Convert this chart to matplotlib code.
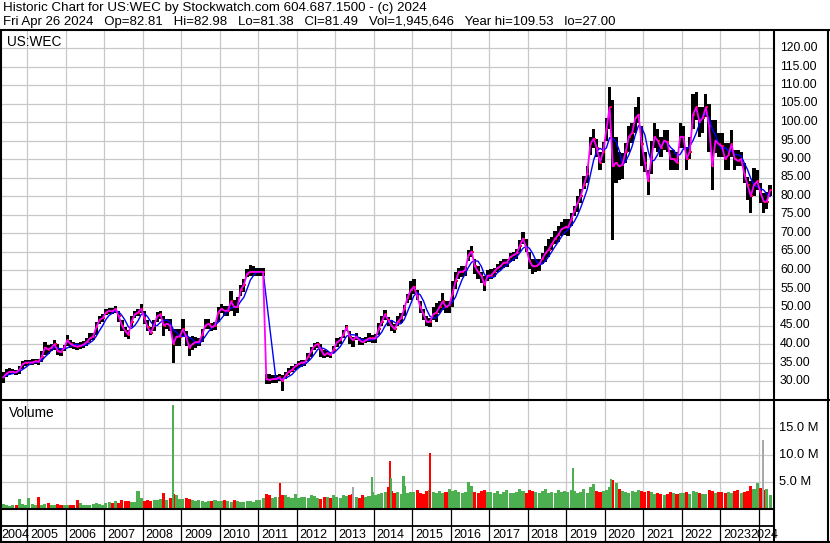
import numpy as np
import pandas as pd
import matplotlib
matplotlib.use("Agg")
import matplotlib.pyplot as plt
from matplotlib.lines import Line2D

# ---------------- data (monthly, May 2004 .. Apr 2024) ----------------
start_year, start_month = 2004, 5

close_px = [
    31.0, 32.0, 32.5, 32.5, 32.3, 33.0, 34.5, 35.0,                          # 2004 May-Dec
    35.0, 35.0, 35.3, 35.2, 36.5, 39.0, 38.5, 39.0, 40.0, 38.0, 37.8, 39.0,  # 2005
    41.0, 40.0, 39.5, 39.3, 39.5, 39.8, 40.5, 41.5, 42.0, 44.5, 46.5, 47.0,  # 2006
    48.5, 49.0, 48.8, 49.5, 47.5, 45.0, 43.5, 42.5, 46.0, 48.0, 48.5, 49.5,  # 2007
    47.0, 44.5, 43.0, 45.0, 47.5, 48.0, 45.0, 45.5, 45.0, 40.0, 42.0, 42.0,  # 2008
    44.0, 42.0, 39.0, 40.0, 40.5, 40.5, 42.5, 45.0, 45.5, 44.5, 45.0, 48.5,  # 2009
    49.5, 49.0, 49.0, 51.5, 50.0, 50.0, 54.5, 56.0, 59.0, 59.5, 59.5, 59.5,  # 2010
    59.5, 59.5, 30.5, 30.3, 30.5, 30.5, 31.0, 30.0, 31.5, 32.5, 33.0, 34.0,  # 2011
    34.5, 35.0, 35.0, 36.5, 38.0, 39.5, 40.0, 38.5, 37.0, 37.5, 37.0, 38.5,  # 2012
    40.5, 41.0, 42.5, 44.5, 42.0, 41.0, 42.0, 41.0, 40.5, 41.0, 41.5, 41.5,  # 2013
    41.5, 44.0, 46.0, 48.0, 46.5, 45.0, 44.0, 46.0, 47.0, 49.5, 52.5, 54.5,  # 2014
    55.5, 53.0, 50.0, 48.0, 46.0, 46.0, 48.0, 48.5, 50.0, 51.5, 50.0, 50.5,  # 2015
    53.5, 57.0, 59.5, 59.5, 60.0, 64.0, 65.0, 61.0, 59.5, 58.5, 56.0, 58.5,  # 2016
    58.5, 59.5, 60.5, 61.0, 62.0, 62.0, 63.5, 64.0, 64.5, 66.5, 68.5, 66.0,  # 2017
    62.5, 61.0, 61.0, 61.5, 63.0, 64.5, 65.5, 67.0, 68.5, 69.5, 71.0, 71.5,  # 2018
    71.5, 73.5, 76.0, 78.0, 80.0, 83.0, 86.0, 94.0, 95.5, 93.0, 89.0, 92.0,  # 2019
    98.0, 104.0, 88.0, 89.0, 88.0, 88.5, 92.0, 96.0, 97.0, 101.0, 102.0, 94.0,  # 2020
    89.0, 84.0, 90.0, 96.0, 95.0, 93.0, 95.0, 94.5, 90.0, 90.0, 89.0, 96.0,  # 2021
    96.0, 90.0, 92.0, 102.0, 104.0, 100.0, 101.0, 104.0, 99.0, 88.0, 95.0, 94.0,  # 2022
    93.5, 90.0, 91.0, 94.0, 90.0, 89.5, 90.0, 86.0, 83.0, 80.0, 83.0, 84.0,  # 2023
    81.0, 78.5, 78.5, 81.5,                                                  # 2024 Jan-Apr
]

high_px = [
    32.5, 33.3, 33.5, 33.3, 33.0, 34.0, 35.5, 35.8,
    35.8, 36.0, 36.0, 36.0, 38.0, 40.5, 39.8, 40.0, 41.0, 40.0, 39.0, 39.8,
    42.5, 41.0, 40.5, 40.3, 40.5, 40.8, 41.5, 43.0, 43.0, 46.0, 47.7, 48.0,
    49.5, 49.8, 49.6, 50.2, 49.0, 46.5, 44.5, 43.8, 47.5, 48.8, 49.5, 50.9,
    49.0, 46.5, 44.5, 46.5, 48.6, 49.0, 47.6, 46.7, 46.7, 44.0, 44.0, 44.0,
    46.7, 43.5, 42.0, 42.2, 42.0, 41.5, 44.0, 46.7, 46.7, 45.8, 46.0, 50.0,
    50.8, 50.3, 50.3, 54.4, 52.0, 52.6, 56.0, 57.5, 60.2, 61.3, 61.0, 60.5,
    60.5, 60.5, 31.8, 31.8, 31.5, 31.5, 32.0, 31.5, 32.3, 33.5, 34.0, 34.5,
    35.5, 35.7, 35.8, 37.5, 39.3, 40.3, 40.6, 40.0, 38.4, 38.0, 37.9, 39.5,
    41.5, 42.0, 43.8, 45.1, 43.5, 42.0, 42.9, 42.0, 41.5, 42.0, 42.9, 42.5,
    42.8, 45.6, 47.5, 49.2, 47.4, 46.5, 45.5, 47.5, 48.5, 50.5, 53.5, 57.0,
    57.7, 54.6, 51.5, 49.5, 47.5, 47.0, 50.0, 51.0, 51.5, 53.7, 51.5, 51.5,
    57.0, 59.5, 60.5, 61.0, 61.2, 65.5, 66.6, 63.0, 61.0, 59.5, 58.5, 60.0,
    60.3, 60.5, 61.5, 62.5, 63.0, 63.0, 64.5, 65.0, 65.7, 68.0, 70.2, 68.5,
    64.8, 63.0, 63.0, 63.0, 64.5, 66.5, 68.4, 69.0, 70.5, 72.0, 73.0, 73.8,
    73.8, 75.5, 77.4, 80.0, 82.0, 85.5, 88.2, 96.0, 98.0, 95.5, 92.0, 94.5,
    101.0, 109.5, 106.0, 96.0, 92.0, 91.5, 94.2, 99.0, 99.6, 104.0, 106.8, 99.0,
    92.0, 87.0, 95.0, 99.6, 98.0, 96.0, 97.8, 97.8, 92.4, 92.4, 92.0, 99.6,
    99.0, 93.3, 96.0, 107.7, 108.2, 104.0, 104.0, 107.7, 105.0, 100.5, 100.5, 97.0,
    97.0, 94.2, 94.2, 97.8, 92.4, 92.4, 92.0, 88.8, 85.2, 84.0, 87.5, 87.0,
    83.4, 80.7, 81.0, 83.0,
]

low_px = [
    29.5, 31.0, 31.7, 31.8, 31.5, 32.0, 33.2, 34.0,
    34.2, 34.3, 34.5, 34.4, 35.2, 37.0, 37.2, 38.0, 38.5, 37.0, 36.8, 38.0,
    39.5, 39.0, 38.7, 38.5, 38.7, 38.8, 39.5, 40.5, 41.0, 42.5, 45.5, 46.0,
    47.8, 48.2, 48.0, 48.5, 46.0, 43.5, 42.0, 41.4, 44.5, 47.0, 47.5, 48.5,
    45.5, 43.5, 42.3, 43.5, 46.0, 46.7, 42.2, 44.0, 43.5, 35.0, 39.5, 39.5,
    42.0, 39.5, 36.8, 38.5, 39.0, 39.5, 40.5, 44.0, 44.0, 43.6, 43.8, 46.0,
    48.5, 47.6, 47.6, 49.0, 47.6, 48.5, 53.0, 54.0, 58.0, 58.4, 58.4, 58.4,
    58.4, 58.5, 29.1, 29.1, 29.5, 29.5, 30.0, 27.4, 30.5, 31.5, 32.3, 33.0,
    33.5, 33.9, 34.0, 35.5, 36.6, 38.5, 38.8, 36.5, 36.1, 36.6, 36.2, 37.5,
    39.3, 40.0, 41.5, 43.5, 40.0, 39.3, 41.0, 39.7, 39.7, 40.2, 40.5, 40.2,
    40.2, 42.5, 45.0, 46.5, 45.0, 43.5, 42.9, 45.0, 45.6, 47.5, 51.0, 52.0,
    53.5, 52.0, 48.5, 46.5, 44.8, 44.7, 46.5, 46.0, 48.5, 49.2, 48.5, 48.3,
    50.0, 55.0, 57.5, 58.0, 58.5, 62.5, 63.5, 59.0, 57.6, 56.5, 54.4, 57.0,
    57.6, 58.0, 59.4, 60.0, 60.5, 60.8, 62.1, 62.5, 63.0, 65.0, 67.0, 64.8,
    60.3, 59.0, 59.5, 59.8, 61.5, 62.1, 63.5, 65.5, 67.0, 67.5, 69.3, 69.5,
    69.3, 72.0, 74.5, 75.6, 78.0, 81.9, 83.5, 91.0, 93.0, 90.5, 87.0, 89.0,
    95.0, 98.0, 68.0, 83.4, 84.3, 84.5, 88.8, 92.0, 94.2, 97.0, 99.6, 88.0,
    86.5, 80.3, 86.0, 93.0, 92.0, 90.6, 92.4, 92.0, 87.0, 87.0, 87.0, 93.0,
    93.0, 87.0, 90.0, 98.0, 100.5, 96.0, 97.0, 101.4, 92.0, 81.6, 91.5, 90.6,
    90.6, 87.0, 87.0, 90.6, 87.0, 88.0, 88.0, 83.4, 79.0, 75.3, 80.0, 81.6,
    78.0, 75.3, 76.5, 80.0,
]

volume_m = [
    0.8, 0.6, 0.5, 0.6, 0.7, 1.8, 0.8, 0.7,
    2.0, 0.8, 0.7, 2.1, 0.6, 0.8, 1.0, 0.7, 0.6, 0.8, 0.7, 0.6,
    0.6, 0.7, 0.6, 1.5, 0.9, 0.7, 0.6, 0.6, 0.8, 1.0, 0.8, 0.7,
    0.9, 1.1, 1.0, 1.3, 1.0, 1.5, 1.3, 1.4, 1.2, 1.1, 3.2, 1.9,
    1.3, 1.5, 1.4, 1.6, 1.5, 1.8, 2.8, 1.6, 2.0, 2.7, 2.4, 1.7,
    1.7, 1.9, 1.8, 1.6, 1.4, 1.5, 1.3, 1.2, 1.4, 1.3, 1.5, 1.4,
    1.3, 1.5, 1.4, 1.2, 1.6, 1.3, 1.1, 1.2, 1.3, 1.4, 1.2, 1.5,
    1.6, 2.0, 2.6, 2.4, 2.0, 2.2, 2.2, 2.4, 2.4, 2.2, 2.0, 2.6,
    2.0, 2.2, 2.1, 1.9, 2.4, 2.3, 2.0, 1.8, 2.1, 2.2, 2.0, 2.4,
    2.2, 2.0, 2.5, 2.3, 2.4, 2.6, 2.2, 2.0, 2.4, 2.1, 2.3, 3.0,
    2.5, 2.6, 2.8, 3.0, 4.0, 3.2, 2.8, 3.0, 2.6, 4.2, 2.8, 3.0,
    3.0, 3.4, 2.8, 2.6, 3.2, 3.5, 3.0, 2.8, 3.2, 2.9, 3.0, 3.6,
    3.2, 3.4, 3.0, 2.8, 3.1, 3.6, 4.2, 3.0, 2.8, 3.2, 3.5, 3.0,
    3.0, 2.8, 3.2, 2.6, 3.0, 3.4, 2.8, 2.9, 3.1, 3.6, 3.3, 2.9,
    3.4, 3.2, 3.0, 2.8, 3.2, 3.6, 2.8, 3.0, 2.9, 3.4, 3.0, 3.2,
    3.0, 3.4, 3.2, 2.8, 3.0, 3.6, 2.8, 4.0, 4.6, 3.2, 3.0, 3.3,
    3.4, 4.0, 5.3, 4.8, 3.6, 3.2, 3.0, 2.8, 3.2, 3.0, 3.4, 3.2,
    3.0, 3.3, 3.0, 2.6, 2.8, 2.7, 2.5, 2.6, 3.0, 2.8, 2.6, 2.9,
    2.8, 3.0, 2.7, 3.2, 3.0, 2.8, 2.6, 2.7, 3.4, 3.2, 2.9, 3.0,
    3.0, 2.8, 3.1, 2.9, 3.2, 3.4, 2.8, 3.0, 3.2, 4.2, 3.6, 4.7,
    3.8, 3.5, 3.6, 2.4,
]

# single-day volume spikes: date (fractional year), volume (M), colour
spike_t = [2008.79, 2011.56, 2013.46, 2013.95, 2014.42, 2014.45, 2014.77, 2015.46, 2016.46, 2019.18, 2020.17, 2024.10]
spike_v = [19.3, 4.8, 4.0, 5.9, 8.8, 5.6, 6.0, 10.3, 5.0, 7.6, 5.5, 12.8]
spike_c = ["g", "r", "k", "g", "r", "g", "g", "r", "g", "g", "g", "k"]

year_labels = list(range(2004, 2025))
price_ticks = list(range(30, 125, 5))
vol_ticks = [5, 10, 15]

header1 = "Historic Chart for US:WEC by Stockwatch.com 604.687.1500 - (c) 2024"
header2 = ("Fri Apr 26 2024   Op=82.81   Hi=82.98   Lo=81.38   Cl=81.49   "
           "Vol=1,945,646   Year hi=109.53   lo=27.00")

# ---------------- layout helpers ----------------
W, H = 830, 543
FONT = "Liberation Sans"
GRID = "#c8c8c8"
GREEN = "#4caf50"
RED = "#ff0000"
GRAY = "#a8a8a8"
COLMAP = {"g": GREEN, "r": RED, "k": GRAY}


def rect(x0, y0, x1, y1):
    return [x0 / W, 1 - y1 / H, (x1 - x0) / W, (y1 - y0) / H]


def xpix_to_year(x):
    return 2005 + (x - 27.3) / 38.5


def price_to_y(p):
    return 85 + (110 - p) * 3.7


def y_to_price(y):
    return 110 - (y - 85) / 3.7


def vol_to_y(v):
    return 508.3 - v * 26.7 / 5


def y_to_vol(y):
    return (508.3 - y) * 5 / 26.7


XL = (xpix_to_year(1), xpix_to_year(774))

plt.rcParams["font.family"] = [FONT, "DejaVu Sans"]
fig = plt.figure(figsize=(W / 100, H / 100), dpi=100, facecolor="white")

n = len(close_px)
t = np.array([start_year + (start_month - 1 + i + 0.5) / 12 for i in range(n)])
close = np.array(close_px)
hi = np.array(high_px)
lo = np.array(low_px)
ma_fast = close
ma_slow = pd.Series(close).rolling(4, min_periods=1).mean().to_numpy()
year_starts = np.arange(2005, 2025)


def clean(ax):
    for s in ax.spines.values():
        s.set_visible(False)
    ax.set_xticks([])
    ax.set_yticks([])
    ax.set_xlim(*XL)
    ax.set_facecolor("white")


# ---------------- price panel ----------------
axp = fig.add_axes(rect(1, 30, 774, 400))
clean(axp)
axp.set_ylim(y_to_price(400), y_to_price(30))
axp.vlines(year_starts, y_to_price(400), y_to_price(30), colors=GRID, lw=0.9, zorder=0)
axp.hlines(price_ticks, XL[0], XL[1], colors=GRID, lw=0.9, zorder=0)
axp.bar(t, hi - lo, bottom=lo, width=1 / 12, color="black", lw=0, zorder=2)
axp.scatter(t + 0.3 / 12, close, s=2.5, color=RED, marker="s", lw=0, zorder=3)
axp.plot(t, ma_slow, color="#0000ff", lw=1.0, zorder=4)
axp.plot(t, ma_fast, color="#ff00ff", lw=1.3, zorder=5)

# ---------------- volume panel ----------------
axv = fig.add_axes(rect(1, 400, 774, 509))
clean(axv)
axv.set_ylim(y_to_vol(509), y_to_vol(400))
axv.vlines(year_starts, 0, 25, colors=GRID, lw=0.9, zorder=0)
axv.hlines(vol_ticks, XL[0], XL[1], colors=GRID, lw=0.9, zorder=0)
up = np.concatenate([[True], close[1:] >= close[:-1]])
vcol = [GREEN if u else RED for u in up]
axv.bar(t, volume_m, width=1 / 12 * 0.95, color=vcol, lw=0, zorder=2)
axv.bar(spike_t, spike_v, width=0.055, color=[COLMAP[c] for c in spike_c], lw=0, zorder=3)

# ---------------- date strip ----------------
axs = fig.add_axes(rect(1, 509, 774, 542))
clean(axs)
axs.set_ylim(0, 1)
axs.vlines(year_starts, 0, 1, colors="black", lw=0.9)

# ---------------- frame lines ----------------
def fline(x0, y0, x1, y1, lw=1.5):
    fig.add_artist(Line2D([x0 / W, x1 / W], [1 - y0 / H, 1 - y1 / H],
                          transform=fig.transFigure, color="black", lw=lw,
                          solid_capstyle="butt"))

fline(0, 30, 830, 30)
fline(0, 400, 830, 400)
fline(0, 509, 774, 509)
fline(0, 526, 774, 526, lw=1.3)
fline(0, 542, 830, 542)
fline(1, 30, 1, 543)
fline(774, 30, 774, 543)
fline(828, 30, 828, 543)

# ---------------- texts ----------------
fig.text(3 / W, 1 - 8.5 / H, header1, fontsize=9.6, va="center", ha="left")
fig.text(3 / W, 1 - 21.5 / H, header2, fontsize=9.5, va="center", ha="left")
fig.text(7 / W, 1 - 42 / H, "US:WEC", fontsize=9.8, va="center", ha="left")
fig.text(9 / W, 1 - 413 / H, "Volume", fontsize=9.8, va="center", ha="left")

for p in price_ticks:
    fig.text(780 / W, 1 - price_to_y(p) / H, f"{p:.2f}", fontsize=8.8,
             va="center", ha="left")
for v in vol_ticks:
    fig.text(779 / W, 1 - vol_to_y(v) / H, f"{v:.1f} M", fontsize=9.3,
             va="center", ha="left")

for yr in year_labels:
    if yr == 2004:
        xl = 1
    elif yr == 2024:
        xl = 750
    else:
        xl = 27.3 + (yr - 2005) * 38.5 + 3
    fig.text(xl / W, 1 - 534.5 / H, str(yr), fontsize=9.0, va="center", ha="left")

fig.savefig("out.png", dpi=100, facecolor="white")
